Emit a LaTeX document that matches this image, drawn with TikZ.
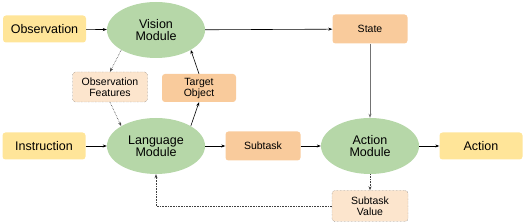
\documentclass[tikz,border=0pt]{standalone}
\usepackage{fontspec}
\setmainfont{Liberation Sans}
\usetikzlibrary{positioning, arrows.meta, shapes.geometric}
\usepackage{xcolor}
\definecolor{boxyellow}{HTML}{FFE599}
\definecolor{boxorange}{HTML}{F9CB9C}
\definecolor{boxpeach}{HTML}{FCE5CD}
\definecolor{modgreen}{HTML}{B6D7A8}

\begin{document}
\begin{tikzpicture}[
    x=1pt, y=1pt,
    >={Stealth[length=4pt, width=3pt]},
    io/.style={rectangle, rounded corners=3pt, fill=boxyellow, minimum width=83pt, minimum height=27pt, font=\fontsize{12.5}{14.5}\selectfont},
    module/.style={ellipse, fill=modgreen, minimum width=98pt, minimum height=56pt, inner sep=0pt, align=center, font=\fontsize{12.5}{12}\selectfont},
    inner/.style={rectangle, rounded corners=3pt, fill=boxorange, minimum width=75pt, minimum height=29pt, inner sep=1pt, align=center, font=\fontsize{10.5}{11}\selectfont},
    feature/.style={rectangle, rounded corners=3pt, fill=boxpeach, draw=black!60, densely dotted, minimum width=75pt, minimum height=30pt, inner sep=1pt, align=center, font=\fontsize{10.5}{11}\selectfont},
    flow/.style={->, line width=0.6pt},
    hint/.style={->, line width=0.6pt, densely dotted, draw=black!75}
]
    \useasboundingbox (0,0) rectangle (526,224);

    % Entradas e saidas
    \node[io] (obs) at (44.5,195) {Observation};
    \node[io] (instr) at (44,78) {Instruction};
    \node[io] (action) at (481,78) {Action};

    % Modulos
    \node[module] (vision) at (156,194) {Vision\\Module};
    \node[module] (lang) at (156,78) {Language\\Module};
    \node[module] (actmod) at (370,78) {Action\\Module};

    % Intermediarios
    \node[inner] (state) at (370,195) {State};
    \node[inner, minimum width=74pt, minimum height=28pt] (target) at (199,136) {Target\\Object};
    \node[inner] (subtask) at (263,78) {Subtask};
    \node[feature] (obsfeat) at (110,137) {Observation\\Features};
    \node[feature, minimum width=76pt, minimum height=31pt] (subval) at (370,18) {Subtask\\Value};

    % Arestas
    \draw[flow] (obs) -- (vision);
    \draw[flow] (vision) -- (state);
    \draw[flow, draw=black!55] (state) -- (actmod);
    \draw[flow] (instr) -- (lang);
    \draw[flow] (lang) -- (subtask);
    \draw[flow] (subtask) -- (actmod);
    \draw[flow] (actmod) -- (action);
    \draw[flow] (lang.north east) -- (target.south);
    \draw[flow] (target.north) -- (vision.south east);

    \draw[hint] (vision.south west) -- (obsfeat.north);
    \draw[hint] (obsfeat.south) -- (lang.north west);
    \draw[hint] (actmod.south) -- (subval.north);
    \draw[hint] (subval.west) -| (lang.south);

\end{tikzpicture}
\end{document}
